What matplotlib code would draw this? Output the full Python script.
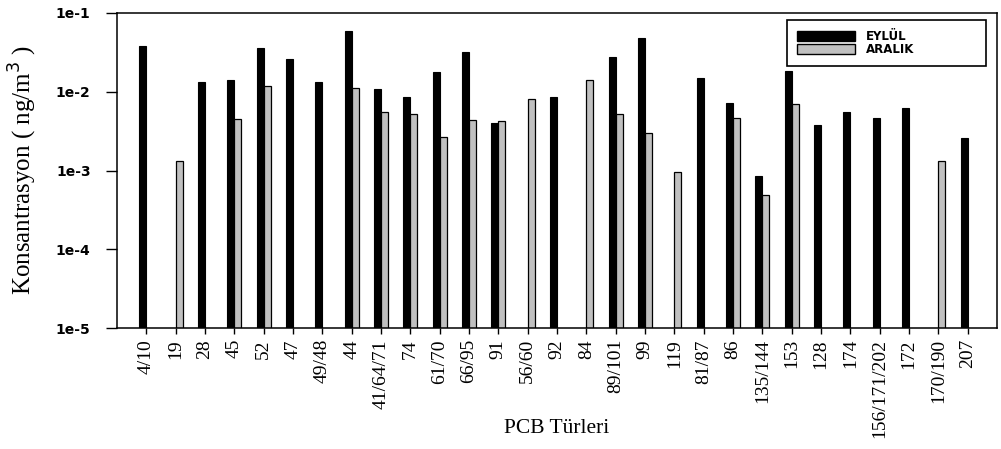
import numpy as np
import matplotlib
matplotlib.use("Agg")
import matplotlib.pyplot as plt
from matplotlib.patches import Patch

# PCB congeners on the x axis
categories = ["4/10", "19", "28", "45", "52", "47", "49/48", "44", "41/64/71", "74",
              "61/70", "66/95", "91", "56/60", "92", "84", "89/101", "99", "119", "81/87",
              "86", "135/144", "153", "128", "174", "156/171/202", "172", "170/190", "207"]

nan = np.nan
# concentrations in ng/m3
eylul = [0.038, nan, 0.0134, 0.0141, 0.0356, 0.0258, 0.0134, 0.0597, 0.0107, 0.0087,
         0.0178, 0.0323, 0.0040, nan, 0.0087, nan, 0.0273, 0.0477, nan, 0.0150,
         0.0073, 0.00086, 0.0185, 0.0038, 0.0055, 0.0047, 0.0062, nan, 0.0026]
aralik = [nan, 0.00132, nan, 0.00446, 0.0118, nan, nan, 0.0113, 0.0055, 0.0052,
          0.0027, 0.0044, 0.0042, 0.0081, nan, 0.0141, 0.0052, 0.0030, 0.00095, nan,
          0.0047, 0.00049, 0.0069, nan, nan, nan, nan, 0.00132, nan]

yticks = [1e-5, 1e-4, 1e-3, 1e-2, 1e-1]
ytick_labels = ["1e-5", "1e-4", "1e-3", "1e-2", "1e-1"]

fig = plt.figure(figsize=(10.01, 4.49), dpi=100)
ax = fig.add_axes([117/1001, 1 - 328/449, 880/1001, 315/449])

x = np.arange(len(categories))
w = 0.23
ax.set_yscale("log")
ax.bar(x - 0.12, eylul, width=w, color="black", edgecolor="black", linewidth=0.8)
ax.bar(x + 0.12, aralik, width=w, color="#c0c0c0", edgecolor="black", linewidth=0.9)

ax.set_ylim(1e-5, 1e-1)
ax.set_xlim(-1, 29)

ax.set_yticks(yticks)
ax.set_yticklabels(ytick_labels, fontfamily="DejaVu Sans", fontweight="bold", fontsize=10)
ax.yaxis.set_minor_locator(matplotlib.ticker.NullLocator())
ax.tick_params(axis="y", direction="out", length=8, width=1, pad=11)

ax.set_xticks(x)
ax.set_xticklabels(categories, rotation=90, fontfamily="Liberation Serif", fontsize=14)
ax.tick_params(axis="x", direction="out", length=4, width=1, pad=4)

for s in ax.spines.values():
    s.set_linewidth(1.1)

ax.set_ylabel("Konsantrasyon ( ng/m$^3$ )", fontfamily="Liberation Serif", fontsize=18)
ax.yaxis.set_label_coords(-0.089, 0.5)
ax.set_xlabel("PCB Türleri", fontfamily="Liberation Serif", fontsize=15.5)
ax.xaxis.set_label_coords(0.5, -0.29)

handles = [Patch(facecolor="black", edgecolor="black", label="EYLÜL"),
           Patch(facecolor="#c0c0c0", edgecolor="black", label="ARALIK")]
leg = ax.legend(handles=handles, loc="upper left",
                bbox_to_anchor=(0.761, 0.832, 0.226, 0.146), mode="expand",
                prop={"family": "DejaVu Sans", "weight": "bold", "size": 8.5},
                handlelength=4.9, handleheight=1.0, labelspacing=0.0,
                borderpad=0.85, handletextpad=1.0, borderaxespad=0,
                fancybox=False, framealpha=1, edgecolor="black")
leg.get_frame().set_linewidth(1.2)

fig.savefig("out.png", dpi=100)
